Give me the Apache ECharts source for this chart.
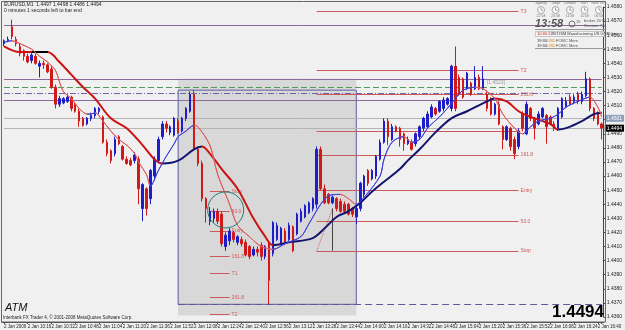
<!DOCTYPE html>
<html><head><meta charset="utf-8">
<script src="https://cdn.jsdelivr.net/npm/echarts@6/dist/echarts.min.js"></script>
<style>html,body{margin:0;padding:0;background:#f0f0f0}#c{width:625px;height:330px}</style>
</head><body><div id="c"></div>
<script>
// ---------- data (EURUSD, 2 Jan 2009) ----------
const opens=[1.4554,1.4556,1.4566,1.4557,1.4552,1.4549,1.4545,1.4542,1.4545,1.4538,
1.4540,1.4539,1.4536,1.4523,1.4511,1.4512,1.4513,1.4516,1.4511,1.4506,
1.4501,1.4497,1.4501,1.4503,1.4506,1.4502,1.4484,1.4478,1.4476,1.4488,
1.4481,1.4472,1.4471,1.4471,1.4472,1.4437,1.4451,1.4444,1.4460,1.4471,
1.4488,1.4497,1.4491,1.4489,1.4499,1.4492,1.4501,1.4506,1.4518,1.4479,
1.4469,1.4444,1.4428,1.4430,1.4435,1.4433,1.4410,1.4414,1.4420,1.4413,
1.4415,1.4413,1.4410,1.4404,1.4408,1.4411,1.4403,1.4412,1.4405,1.4415,
1.4412,1.4421,1.4415,1.4424,1.4419,1.4428,1.4431,1.4434,1.4437,1.4440,
1.4479,1.4451,1.4447,1.4441,1.4444,1.4442,1.4440,1.4440,1.4437,1.4431,
1.4437,1.4447,1.4464,1.4458,1.4460,1.4472,1.4484,1.4499,1.4486,1.4495,
1.4494,1.4490,1.4483,1.4484,1.4483,1.4488,1.4494,1.4495,1.4502,1.4508,
1.4506,1.4508,1.4511,1.4508,1.4538,1.4530,1.4529,1.4522,1.4526,1.4522,
1.4530,1.4522,1.4518,1.4515,1.4504,1.4511,1.4495,1.4486,1.4494,1.4486,
1.4481,1.4504,1.4490,1.4508,1.4501,1.4497,1.4502,1.4503,1.4502,1.4497,
1.4494,1.4502,1.4509,1.4516,1.4513,1.4518,1.4513,1.4517,1.4529,1.4508,
1.4504,1.4497];
const closes=[1.4556,1.4557,1.4559,1.4554,1.4547,1.4545,1.4541,1.4546,1.4540,1.4540,
1.4539,1.4534,1.4523,1.4511,1.4515,1.4515,1.4516,1.4508,1.4506,1.4499,
1.4496,1.4501,1.4503,1.4508,1.4508,1.4484,1.4476,1.4471,1.4486,1.4483,
1.4472,1.4469,1.4468,1.4475,1.4451,1.4454,1.4437,1.4464,1.4472,1.4486,
1.4497,1.4494,1.4495,1.4501,1.4491,1.4501,1.4508,1.4518,1.4479,1.4469,
1.4444,1.4437,1.4435,1.4435,1.4428,1.4412,1.4418,1.4421,1.4415,1.4417,
1.4412,1.4404,1.4403,1.4408,1.4406,1.4403,1.4410,1.4386,1.4427,1.4425,
1.4423,1.4412,1.4425,1.4407,1.4433,1.4435,1.4439,1.4441,1.4444,1.4479,
1.4451,1.4441,1.4441,1.4445,1.4437,1.4435,1.4435,1.4433,1.4433,1.4437,
1.4455,1.4460,1.4455,1.4464,1.4474,1.4484,1.4499,1.4488,1.4495,1.4492,
1.4486,1.4483,1.4486,1.4479,1.4490,1.4495,1.4501,1.4504,1.4509,1.4504,
1.4513,1.4514,1.4515,1.4538,1.4508,1.4518,1.4516,1.4533,1.4518,1.4530,
1.4522,1.4529,1.4508,1.4504,1.4511,1.4497,1.4486,1.4495,1.4481,1.4476,
1.4492,1.4494,1.4511,1.4501,1.4494,1.4504,1.4508,1.4495,1.4497,1.4494,
1.4508,1.4515,1.4513,1.4511,1.4516,1.4513,1.4518,1.4529,1.4508,1.4501,
1.4497,1.4494];
const lows=[1.4552,1.4555,1.4557,1.4552,1.4545,1.4542,1.4540,1.4540,1.4539,1.4530,
1.4536,1.4533,1.4522,1.4508,1.4509,1.4511,1.4512,1.4506,1.4505,1.4495,
1.4495,1.4496,1.4499,1.4501,1.4504,1.4483,1.4474,1.4469,1.4474,1.4482,
1.4471,1.4468,1.4467,1.4469,1.4440,1.4428,1.4432,1.4440,1.4457,1.4469,
1.4486,1.4491,1.4489,1.4488,1.4490,1.4491,1.4499,1.4505,1.4478,1.4467,
1.4442,1.4427,1.4425,1.4427,1.4426,1.4410,1.4407,1.4411,1.4413,1.4411,
1.4410,1.4403,1.4401,1.4403,1.4403,1.4400,1.4401,1.4369,1.4403,1.4414,
1.4411,1.4411,1.4414,1.4406,1.4418,1.4427,1.4430,1.4433,1.4435,1.4437,
1.4450,1.4440,1.4440,1.4440,1.4435,1.4434,1.4434,1.4432,1.4431,1.4426,
1.4435,1.4445,1.4453,1.4457,1.4458,1.4471,1.4483,1.4482,1.4485,1.4491,
1.4481,1.4478,1.4482,1.4478,1.4481,1.4486,1.4492,1.4494,1.4501,1.4503,
1.4505,1.4506,1.4510,1.4506,1.4506,1.4517,1.4515,1.4521,1.4517,1.4521,
1.4521,1.4521,1.4506,1.4503,1.4503,1.4496,1.4479,1.4485,1.4478,1.4472,
1.4479,1.4492,1.4489,1.4499,1.4486,1.4496,1.4501,1.4483,1.4496,1.4492,
1.4492,1.4501,1.4508,1.4510,1.4511,1.4511,1.4511,1.4516,1.4506,1.4499,
1.4496,1.4486];
const highs=[1.4557,1.4559,1.4571,1.4559,1.4554,1.4550,1.4547,1.4548,1.4547,1.4542,
1.4542,1.4540,1.4538,1.4525,1.4517,1.4516,1.4518,1.4517,1.4512,1.4508,
1.4502,1.4502,1.4505,1.4509,1.4509,1.4503,1.4486,1.4479,1.4488,1.4489,
1.4482,1.4474,1.4473,1.4477,1.4474,1.4455,1.4452,1.4465,1.4474,1.4488,
1.4499,1.4499,1.4496,1.4502,1.4501,1.4502,1.4509,1.4520,1.4521,1.4481,
1.4471,1.4445,1.4438,1.4437,1.4437,1.4435,1.4420,1.4423,1.4421,1.4418,
1.4417,1.4415,1.4411,1.4410,1.4410,1.4413,1.4411,1.4413,1.4428,1.4427,
1.4424,1.4423,1.4427,1.4425,1.4434,1.4437,1.4440,1.4442,1.4445,1.4481,
1.4481,1.4454,1.4448,1.4446,1.4445,1.4444,1.4442,1.4441,1.4438,1.4438,
1.4456,1.4461,1.4465,1.4465,1.4475,1.4486,1.4501,1.4501,1.4497,1.4496,
1.4495,1.4491,1.4488,1.4486,1.4491,1.4496,1.4502,1.4506,1.4511,1.4509,
1.4514,1.4516,1.4516,1.4539,1.4552,1.4532,1.4530,1.4534,1.4527,1.4538,
1.4532,1.4538,1.4520,1.4516,1.4512,1.4513,1.4496,1.4496,1.4495,1.4488,
1.4494,1.4506,1.4513,1.4509,1.4502,1.4506,1.4509,1.4504,1.4503,1.4499,
1.4509,1.4516,1.4516,1.4518,1.4518,1.4520,1.4520,1.4534,1.4530,1.4509,
1.4506,1.4498];
const timeLabels=["2 Jan 2009","2 Jan 10:16","2 Jan 10:32","2 Jan 10:48","2 Jan 11:04","2 Jan 11:20","2 Jan 11:36","2 Jan 11:52","2 Jan 12:08","2 Jan 12:24","2 Jan 12:40","2 Jan 12:56","2 Jan 13:12","2 Jan 13:28","2 Jan 13:44","2 Jan 14:00","2 Jan 14:16","2 Jan 14:32","2 Jan 14:48","2 Jan 15:04","2 Jan 15:20","2 Jan 15:36","2 Jan 15:52","2 Jan 16:08","2 Jan 16:24","2 Jan 16:40"];
const priceMin=1.4360, priceMax=1.4580, priceStep=0.0010;
// slow (thick) and fast (thin) moving averages, read at selected bars: [bar, price]
const slowMA=[[0,1.4552],[4,1.4548],[7,1.4548],[11,1.4548],[14,1.4541],[17,1.4532],[20,1.4523],[23,1.4515],[27,1.4501],[31,1.4494],[35,1.4482],[38,1.4472],[40,1.4469],[44,1.4471],[48,1.4479],[50,1.4481],[52,1.4476],[55,1.4465],[59,1.4451],[63,1.4430],[66,1.4417],[68,1.4411],[72,1.4413],[78,1.4416],[81,1.4423],[84,1.4431],[87,1.4435],[90,1.4441],[93,1.4449],[96,1.4456],[100,1.4465],[102,1.4471],[105,1.4479],[109,1.4491],[113,1.4501],[117,1.4506],[122,1.4513],[124,1.4515],[127,1.4513],[130,1.4506],[133,1.4502],[138,1.4497],[140,1.4493],[142,1.4494],[146,1.4499],[149,1.4504],[151,1.4505]];
const fastMA=[[0,1.4555],[2,1.4556],[4,1.4554],[7,1.4550],[9,1.4545],[11,1.4541],[13,1.4535],[14,1.4527],[15,1.4520],[17,1.4515],[19,1.4508],[21,1.4504],[22,1.4504],[23,1.4505],[25,1.4499],[27,1.4492],[29,1.4486],[31,1.4482],[33,1.4476],[34,1.4470],[36,1.4461],[37,1.4453],[39,1.4464],[41,1.4474],[43,1.4483],[44,1.4488],[46,1.4492],[48,1.4496],[49,1.4495],[52,1.4482],[54,1.4461],[57,1.4440],[59,1.4425],[62,1.4417],[65,1.4410],[68,1.4408],[71,1.4412],[75,1.4417],[77,1.4426],[80,1.4440],[82,1.4446],[85,1.4447],[87,1.4444],[89,1.4440],[91,1.4445],[95,1.4460],[96,1.4472],[98,1.4484],[101,1.4488],[103,1.4484],[105,1.4486],[107,1.4494],[110,1.4502],[112,1.4508],[114,1.4515],[116,1.4521],[119,1.4523],[121,1.4522],[124,1.4515],[126,1.4504],[129,1.4494],[131,1.4490],[133,1.4495],[135,1.4499],[138,1.4501],[140,1.4504],[142,1.4509],[145,1.4513],[148,1.4516],[150,1.4509],[151,1.4502]];
// horizontal levels
const purpleLevels=[1.4567,1.4529,1.4514];
const greenLevel=1.4523, dashDotLevel=1.4519, stopRunLevel=1.4369;
const askPrice=1.4501, bidPrice=1.4494;
const fibLeftNames=['Stop','50.0','Entry','161.8','T1','261.8','T2'];
const fibLeftValues=[1.4449,1.4435,1.4421,1.4403,1.4391,1.4374,1.4362];
const fibRightNames=['Stop','50.0','Entry','161.8','T1','261.8','T2','T3'];
const fibRightValues=[1.4407,1.4428,1.4450,1.4475,1.4492,1.4518,1.4535,1.4577];
const shadeBox={fromBar:44,toBar:89,top:1.4529,bottom:1.4361};
const rangeBox={fromBar:44,toBar:89,top:1.4521,bottom:1.4369};

// ---------- styles ----------
const BULL='#1e1ec8', BEAR='#d01a1a';
const RED='#cc1212', NAVY='#14146e', TR='#e05a5a', TB='#4040d8';
const FIB='#cc5a5a', PURPLE='#8a6a9c';
const FONT='"Liberation Sans", Arial, sans-serif';
const slowSeg=[[0,RED],[7,'#000'],[11,RED],[40,NAVY],[50,RED],[68,NAVY],[124,RED],[140,NAVY]];
const fastSeg=[[0,TB],[2,TR],[21,TB],[23,TR],[37,TB],[48,TR],[68,TB],[85,TR],[89,TB],[101,TR],[103,TB],[119,TR],[131,TB],[148,TR]];
function pieces(seg){return seg.map((s,k)=>k<seg.length-1?{gte:s[0],lt:seg[k+1][0],color:s[1]}:{gte:s[0],color:s[1]});}

const categories=opens.map((_,i)=>i);
const lastBar=categories.length-1;
const candles=opens.map((o,i)=>[o,closes[i],lows[i],highs[i]]);
const lbl={fontSize:5,fontFamily:FONT,color:FIB,position:'end',distance:2};
const full=(v,style,label)=>[Object.assign({coord:[0,v],lineStyle:style},label?{label:label}:{}),{coord:[lastBar,v]}];

const markLines=[];
purpleLevels.forEach(v=>markLines.push(full(v,{color:PURPLE,width:1,type:'solid'})));
markLines.push(full(greenLevel,{color:'#4e9a56',width:1,type:[6,3]}));
markLines.push(full(dashDotLevel,{color:'#6e62a8',width:1,type:[6,2,1,2]}));
markLines.push(full(askPrice,{color:'#b4b4b4',width:1,type:'solid'},{show:true,position:'end',distance:3,formatter:askPrice.toFixed(4),backgroundColor:'#8ea0bc',color:'#fff',fontSize:5,fontFamily:FONT,padding:[1,2]}));
markLines.push(full(bidPrice,{color:'#b4b4b4',width:1,type:'solid'},{show:true,position:'end',distance:3,formatter:bidPrice.toFixed(4),backgroundColor:'#000',color:'#fff',fontSize:5,fontFamily:FONT,padding:[1,2]}));
markLines.push([{coord:[44,stopRunLevel],lineStyle:{color:'#5a5a9c',width:1,type:[7,4]}},{coord:[lastBar,stopRunLevel]}]);
fibLeftNames.forEach((n,k)=>markLines.push([{coord:[52,fibLeftValues[k]],lineStyle:{color:FIB,width:1,type:'solid'},label:Object.assign({show:true,formatter:n},lbl)},{coord:[57,fibLeftValues[k]]}]));
fibRightNames.forEach((n,k)=>markLines.push([{coord:[79,fibRightValues[k]],lineStyle:{color:FIB,width:1,type:'solid'},label:Object.assign({show:true,formatter:n},lbl)},{coord:[130,fibRightValues[k]]}]));
markLines.push([{coord:[79,fibRightValues[0]],lineStyle:{color:FIB,width:1,type:'dotted'}},{coord:[83,1.4437]}]);
markLines.push([{coord:[83,fibRightValues[0]],lineStyle:{color:'#444',width:1,type:'solid'}},{coord:[83,1.4437]}]);

const chart=echarts.init(document.getElementById('c'));
chart.setOption({
  animation:false,
  backgroundColor:'#f0f0f0',
  grid:{left:2,right:20,top:7,bottom:13,containLabel:false},
  xAxis:{type:'category',data:categories,boundaryGap:true,offset:5,
    axisLine:{lineStyle:{color:'#444',width:1}},
    axisTick:{show:true,interval:5,alignWithLabel:true,length:2,lineStyle:{color:'#444'}},
    axisLabel:{interval:5,align:'left',margin:2,fontSize:4.5,fontFamily:FONT,color:'#222',showMinLabel:true,showMaxLabel:true,hideOverlap:false,
      formatter:(v,i)=>timeLabels[i/6]||''},
    splitLine:{show:false}},
  yAxis:{type:'value',position:'right',min:priceMin,max:priceMax,interval:priceStep,
    axisLine:{show:true,lineStyle:{color:'#444'}},
    axisTick:{show:true,length:2,lineStyle:{color:'#444'}},
    axisLabel:{margin:3,fontSize:5,fontFamily:FONT,color:'#222',formatter:v=>v.toFixed(4)},
    splitLine:{show:false}},
  visualMap:[
    {show:false,type:'piecewise',seriesIndex:1,dimension:0,pieces:pieces(slowSeg)},
    {show:false,type:'piecewise',seriesIndex:2,dimension:0,pieces:pieces(fastSeg)}
  ],
  series:[
    {type:'candlestick',name:'EURUSD',data:candles,z:3,barWidth:2,
      itemStyle:{color:BULL,color0:BEAR,borderColor:BULL,borderColor0:BEAR,borderWidth:1},
      markArea:{silent:true,z:0,data:[
        [{coord:[shadeBox.fromBar,shadeBox.top],itemStyle:{color:'#d8d8d8'}},{coord:[shadeBox.toBar,shadeBox.bottom]}],
        [{coord:[rangeBox.fromBar,rangeBox.top],itemStyle:{color:'rgba(0,0,0,0)',borderColor:'#5c5ca4',borderWidth:1}},{coord:[rangeBox.toBar,rangeBox.bottom]}]
      ]},
      markLine:{silent:true,symbol:'none',z:1,label:{show:false},data:markLines}
    },
    {type:'line',name:'slow',data:slowMA,z:4,smooth:0.35,showSymbol:false,lineStyle:{width:2}},
    {type:'line',name:'fast',data:fastMA,z:4,smooth:0.3,showSymbol:false,lineStyle:{width:1}}
  ]
});

// ---------- annotations (placed through the chart's scales where tied to data) ----------
const P=(i,v)=>chart.convertToPixel({gridIndex:0},[i,v]);
const circ=P(56,1.4436);
const tag=P(122,greenLevel);
const t=(x,y,text,font,fill,extra)=>({type:'text',x:x,y:y,silent:true,z:50,style:Object.assign({text:text,font:font,fill:fill||'#222'},extra||{})});
const g=[
  {type:'rect',silent:true,z:40,shape:{x:1.5,y:1.5,width:604,height:320.5},style:{fill:'none',stroke:'#666',lineWidth:1}},
  {type:'circle',silent:true,z:40,shape:{cx:circ[0],cy:circ[1],r:18},style:{fill:'none',stroke:'#237a72',lineWidth:1}},
  t(tag[0],tag[1]-7,'[1.4523]','5px '+FONT,'#999'),
  t(4,2,'EURUSD,M1  1.4497 1.4498 1.4486 1.4494','5px '+FONT,'#222'),
  t(4,8,'0 minutes 1 seconds left to bar end','5px '+FONT,'#222'),
  t(5,302,'ATM','italic 11px '+FONT,'#111'),
  t(3,315,'Interbank FX Trader 4, \u00a9 2001-2008 MetaQuotes Software Corp.','4.5px '+FONT,'#222'),
  t(604,321,'1.4494','bold 17px '+FONT,'#000',{align:'right',verticalAlign:'bottom'}),
  t(535,18,'13:58','italic bold 11px '+FONT,'#555'),
  t(576,20,'15','4px '+FONT,'#555'),
  t(584,19,'broker 20:55','4px '+FONT,'#555'),
  t(584,24,'Session: NY','4px '+FONT,'#555'),
  {type:'line',silent:true,z:40,shape:{x1:535,y1:29.5,x2:605,y2:29.5},style:{stroke:'#999',lineWidth:1}},
  {type:'rect',silent:true,z:40,shape:{x:535.5,y:31.5,width:69,height:5},style:{fill:'#f6f6f6',stroke:'#aaa',lineWidth:0.6}},
  t(537,32,'10:30:11','4px '+FONT,'#c02020'),
  t(552,32,'INT.ISM Manufacturing US 07:35 hrs','4px '+FONT,'#333'),
  t(537,39,'19:30','4px '+FONT,'#333'),t(547,39,'USD','4px '+FONT,'#e08a10'),t(556,39,'FOMC Mem','4px '+FONT,'#555'),
  t(537,44,'19:30','4px '+FONT,'#333'),t(547,44,'USD','4px '+FONT,'#e08a10'),t(556,44,'FOMC Mem','4px '+FONT,'#555'),
  {type:'line',silent:true,z:40,shape:{x1:535,y1:48.5,x2:605,y2:48.5},style:{stroke:'#999',lineWidth:1}}
];
const cities=['Sydney','Tokyo','London','GMT','New York'];
const cityTimes=['22:58','20:58','11:58','11:58','06:58'];
cities.forEach((c,k)=>{
  const cx=541+k*14.5;
  g.push(t(cx,1,c,'3.5px '+FONT,'#777',{align:'center'}));
  g.push({type:'circle',silent:true,z:40,shape:{cx:cx,cy:10,r:3.5},style:{fill:'#fafafa',stroke:'#888',lineWidth:0.7}});
  g.push({type:'line',silent:true,z:41,shape:{x1:cx,y1:10,x2:cx,y2:7.5},style:{stroke:'#666',lineWidth:0.6}});
  g.push({type:'line',silent:true,z:41,shape:{x1:cx,y1:10,x2:cx+2,y2:10.5},style:{stroke:'#666',lineWidth:0.6}});
  g.push(t(cx,14.5,cityTimes[k],'3.5px '+FONT,'#777',{align:'center'}));
});
g.push({type:'circle',silent:true,z:40,shape:{cx:572,cy:24,r:3},style:{fill:'none',stroke:'#555',lineWidth:0.8}});
chart.setOption({graphic:g});
</script></body></html>
